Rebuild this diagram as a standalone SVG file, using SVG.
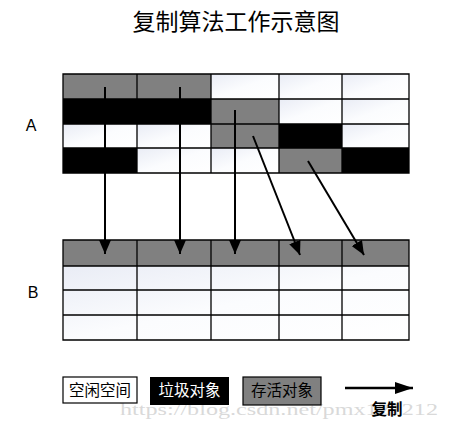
<svg xmlns="http://www.w3.org/2000/svg" width="451" height="426" viewBox="0 0 451 426">
<defs>
<linearGradient id="wg" x1="0" y1="0" x2="1" y2="1">
<stop offset="0" stop-color="#e9ecf5"/>
<stop offset="0.5" stop-color="#fbfcfe"/>
<stop offset="1" stop-color="#ffffff"/>
</linearGradient>
<marker id="ah" markerUnits="userSpaceOnUse" markerWidth="14" markerHeight="12" refX="14" refY="6" orient="auto">
<path d="M0,0 L14,6 L0,12 Z" fill="#000"/>
</marker>
<marker id="ahL" markerUnits="userSpaceOnUse" markerWidth="18" markerHeight="12" refX="18" refY="6" orient="auto">
<path d="M0,0 L18,6 L0,12 Z" fill="#000"/>
</marker>
</defs>
<style>
.w{fill:url(#wg)}
.k{fill:#000}
.g{fill:#808080}
.grid{stroke:#000;stroke-width:1.3;fill:none}
.cn{font-family:"Liberation Sans","Noto Sans CJK SC",sans-serif}
.con{stroke:#000;stroke-width:2;fill:none;marker-end:url(#ah)}
</style>
<rect width="451" height="426" fill="#fff"/>
<text class="cn" x="236" y="30" font-size="23" text-anchor="middle" fill="#000">复制算法工作示意图</text>
<text class="cn" x="31" y="131" font-size="16" text-anchor="middle">A</text>
<text class="cn" x="33" y="298" font-size="16" text-anchor="middle">B</text>

<g id="gridA">
<rect class="g" x="63" y="74" width="148" height="25"/>
<rect class="w" x="211" y="74" width="68" height="25"/>
<rect class="w" x="279" y="74" width="63" height="25"/>
<rect class="w" x="342" y="74" width="67" height="25"/>
<rect class="k" x="63" y="99" width="148" height="25"/>
<rect class="g" x="211" y="99" width="68" height="25"/>
<rect class="w" x="279" y="99" width="63" height="25"/>
<rect class="w" x="342" y="99" width="67" height="25"/>
<rect class="w" x="63" y="124" width="74" height="24"/>
<rect class="w" x="137" y="124" width="74" height="24"/>
<rect class="g" x="211" y="124" width="68" height="24"/>
<rect class="k" x="279" y="124" width="63" height="24"/>
<rect class="w" x="342" y="124" width="67" height="24"/>
<rect class="k" x="63" y="148" width="74" height="25"/>
<rect class="w" x="137" y="148" width="74" height="25"/>
<rect class="w" x="211" y="148" width="68" height="25"/>
<rect class="g" x="279" y="148" width="63" height="25"/>
<rect class="k" x="342" y="148" width="67" height="25"/>
<path class="grid" d="M63,74H409V173H63Z M63,99H409 M63,124H409 M63,148H409 M137,74V99 M137,124V173 M211,74V173 M279,74V173 M342,74V173"/>
</g>

<g id="gridB">
<rect class="g" x="63" y="240" width="346" height="26"/>
<rect class="w" x="63" y="266" width="346" height="74"/>
<path class="grid" d="M63,240H409V340H63Z M63,266H409 M63,290H409 M63,315H409 M137,240V340 M211,240V340 M279,240V340 M342,240V340"/>
</g>

<g id="connectors">
<line class="con" x1="105" y1="87" x2="105" y2="254"/>
<line class="con" x1="180" y1="87" x2="180" y2="254"/>
<line class="con" x1="235" y1="110" x2="235" y2="254"/>
<line class="con" x1="253" y1="136" x2="300" y2="255"/>
<line class="con" x1="308" y1="161" x2="364" y2="255"/>
</g>

<text x="279" y="415" font-family="Liberation Serif,serif" font-size="16" fill="#c8c8c8" fill-opacity="0.7" text-anchor="middle" textLength="318" lengthAdjust="spacingAndGlyphs">https://blog.csdn.net/pmx121212</text>

<g id="legend-free">
<rect x="63" y="377" width="74" height="26" fill="#fff" stroke="#000" stroke-width="1.2"/>
<text class="cn" x="100" y="396" font-size="15.5" text-anchor="middle">空闲空间</text>
</g>
<g id="legend-garbage">
<rect x="150" y="377" width="79" height="28" fill="#000"/>
<text class="cn" x="189.5" y="396" font-size="15.5" text-anchor="middle" fill="#fff">垃圾对象</text>
</g>
<g id="legend-alive">
<rect x="243" y="377" width="78" height="28" fill="#808080" stroke="#000" stroke-width="1.2"/>
<text class="cn" x="282" y="396" font-size="15.5" text-anchor="middle">存活对象</text>
</g>
<g id="legend-copy">
<line x1="345" y1="388" x2="413" y2="388" stroke="#000" stroke-width="2.5" marker-end="url(#ahL)"/>
<text class="cn" x="387" y="415" font-size="15.5" font-weight="bold" text-anchor="middle">复制</text>
</g>
</svg>
